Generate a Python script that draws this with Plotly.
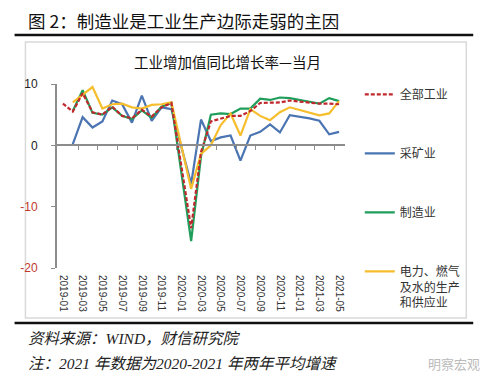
import plotly.graph_objects as go

months = ["2019-01","2019-02","2019-03","2019-04","2019-05","2019-06","2019-07","2019-08","2019-09","2019-10","2019-11","2019-12",
          "2020-01","2020-02","2020-03","2020-04","2020-05","2020-06","2020-07","2020-08","2020-09","2020-10","2020-11","2020-12",
          "2021-01","2021-02","2021-03","2021-04","2021-05"]
total = [6.8, 5.5, 8.5, 5.4, 5.0, 6.3, 4.8, 4.4, 5.8, 4.7, 6.2, 6.9,
         None, -13.5, -1.1, 3.9, 4.4, 4.8, 4.8, 5.6, 6.9, 6.9, 7.0, 7.3,
         None, 6.9, 6.8, 6.8, 6.7]
mining = [None, 0.2, 4.6, 2.9, 3.9, 7.3, 6.7, 3.7, 8.1, 4.0, 6.2, 5.9,
          None, -6.3, 4.2, 0.7, 1.3, 1.6, -2.5, 1.6, 2.2, 3.4, 2.1, 4.9,
          None, 4.4, 4.0, 1.8, 2.2]
manuf = [None, 5.6, 9.0, 5.3, 5.0, 6.2, 4.8, 4.3, 5.7, 4.5, 6.3, 6.9,
         None, -15.6, -1.8, 5.0, 5.2, 5.1, 6.0, 6.0, 7.6, 7.4, 7.8, 7.7,
         None, 7.1, 6.8, 7.7, 7.2]
util = [None, 7.0, 8.3, 9.5, 6.0, 6.7, 6.8, 6.2, 6.0, 6.6, 6.7, 7.0,
        None, -7.1, -1.4, 0.0, 3.3, 5.2, 1.6, 5.9, 4.8, 4.1, 5.4, 6.2,
        None, 5.4, 4.9, 5.2, 7.2]

y_ticks = [10, 0, -10, -20]
names = ["全部工业", "采矿业", "制造业", "电力、燃气<br>及水的生产<br>和供应业"]

W, H = 500, 389
OFF = 8  # page body margin
L, R, T, B = 53, 345, 84, 268  # plot area in page pixels

def px(x):
    return (x - L) / (R - L)

def py(y):
    return (B - y) / (B - T)

idx = list(range(len(months)))
CJK = "Noto Sans CJK SC"
LAT = "Liberation Sans"
SER = "Liberation Serif, Noto Sans CJK SC"

fig = go.Figure()
series = [
    (mining, names[1], "#4A74B2", "solid", 2),
    (manuf, names[2], "#1E9E5A", "solid", 3),
    (util, names[3], "#F6BE2C", "solid", 4),
    (total, names[0], "#C0282D", "4px,2px", 1),
]
for vals, nm, col, dash, rank in series:
    fig.add_trace(go.Scatter(
        x=idx, y=vals, name=nm, mode="lines", connectgaps=True,
        line=dict(color=col, width=2.2, dash=dash),
        legendgroup=nm, legendrank=rank, hoverinfo="skip"))

tick_text = []
for v in y_ticks:
    if v < 0:
        tick_text.append("<span style='color:#C0392B'>%d</span>" % v)
    else:
        tick_text.append(str(v))

xr = [-0.6, 28.6]
fig.update_layout(
    width=W, height=H,
    margin=dict(l=L - OFF, r=W - (R - OFF), t=T - OFF, b=H - (B - OFF), pad=0),
    paper_bgcolor="white", plot_bgcolor="white",
    showlegend=True,
    legend=dict(x=px(360), y=py(80), xanchor="left", yanchor="top",
                font=dict(family=CJK, size=12, color="#333"),
                tracegroupgap=40, valign="top", bgcolor="rgba(0,0,0,0)",
                maxheight=320),
    xaxis=dict(range=xr, tickmode="array", tickvals=idx[::2], ticktext=months[::2],
               tickangle=90, showgrid=False, zeroline=False, showline=False, ticks="",
               tickfont=dict(family=LAT, size=10, color="#333"), ticklabelstandoff=6),
    xaxis2=dict(range=xr, overlaying="x", anchor="free", position=py(145), side="bottom",
                showline=True, linecolor="#8C8C8C", linewidth=2, showticklabels=False,
                showgrid=False, zeroline=False, ticks="",
                minor=dict(tickmode="array", tickvals=[1.55 + 2 * k for k in range(14)],
                           ticks="outside", ticklen=4, tickcolor="#8C8C8C", tickwidth=1)),
    yaxis=dict(range=[-20, 10], tickmode="array", tickvals=y_ticks, ticktext=tick_text,
               showgrid=False, zeroline=False, showline=True, linecolor="#8C8C8C", linewidth=2,
               ticks="outside", ticklen=4, tickcolor="#8C8C8C",
               tickfont=dict(family=LAT, size=12, color="#222"), ticklabelstandoff=11),
)
fig.add_trace(go.Scatter(x=[], y=[], xaxis="x2", showlegend=False, hoverinfo="skip"))

shapes = [
    dict(type="rect", xref="paper", yref="paper", x0=px(21), x1=px(468), y0=py(42), y1=py(318),
         line=dict(color="#D9D9D9", width=1.5), fillcolor="rgba(0,0,0,0)", layer="below"),
    dict(type="line", xref="paper", yref="paper", x0=px(10), x1=px(475), y0=py(35), y1=py(35),
         line=dict(color="#111", width=2.5)),
    dict(type="line", xref="paper", yref="paper", x0=px(10), x1=px(475), y0=py(323), y1=py(323),
         line=dict(color="#111", width=2.5)),
]
fig.update_layout(shapes=shapes)

ann = [
    dict(text="图 2：制造业是工业生产边际走弱的主因", x=px(22), y=py(21), xanchor="left", yanchor="middle",
         font=dict(family=CJK, size=17.5, color="#111")),
    dict(text="工业增加值同比增长率—当月", x=px(226), y=py(62), xanchor="center", yanchor="middle",
         font=dict(family=CJK, size=14.5, color="#111")),
    dict(text="<i>资料来源：WIND，财信研究院</i>", x=px(22), y=py(338), xanchor="left", yanchor="middle",
         font=dict(family=SER, size=15.5, color="#222")),
    dict(text="<i>注：2021 年数据为2020-2021 年两年平均增速</i>", x=px(22), y=py(363), xanchor="left", yanchor="middle",
         font=dict(family=SER, size=15.5, color="#222")),
    dict(text="明察宏观", x=px(484), y=py(363), xanchor="right", yanchor="middle",
         font=dict(family=CJK, size=13, color="#BBBBBB")),
]
for a in ann:
    a.update(xref="paper", yref="paper", showarrow=False)
fig.update_layout(annotations=ann)

fig.write_html("out.html")
